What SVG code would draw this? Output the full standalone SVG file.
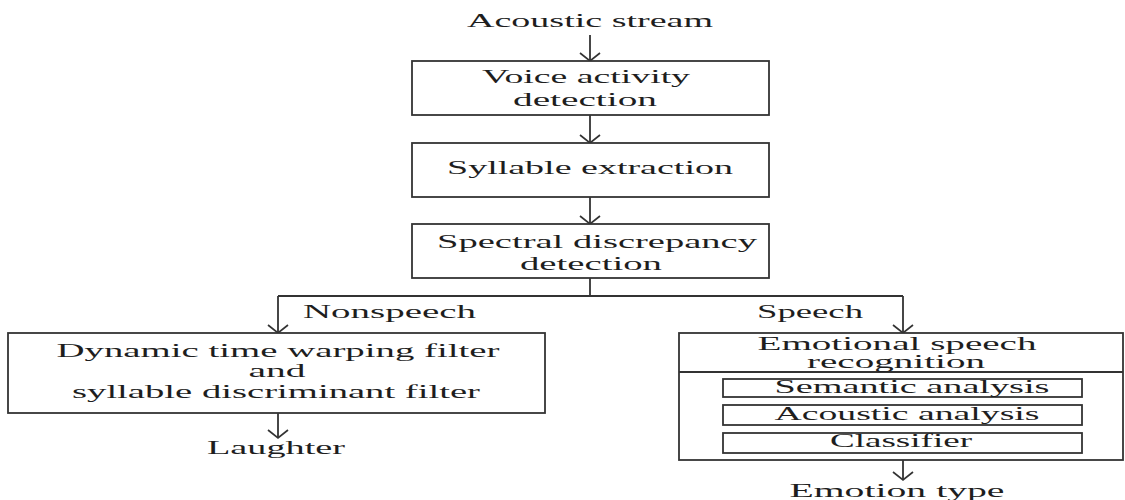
<svg xmlns="http://www.w3.org/2000/svg" width="1125" height="500" viewBox="0 0 1125 500">
<style>
  .box { fill: #ffffff; stroke: #333333; stroke-width: 1.8; }
  .ln { fill: none; stroke: #333333; stroke-width: 1.8; }
  .ah { fill: none; stroke: #333333; stroke-width: 1.7; stroke-linejoin: miter; }
  text { font-family: "Liberation Serif", "Times New Roman", serif; font-size: 18px; fill: #1e1e1e; }
  .m { text-anchor: middle; }
</style>
<rect width="1125" height="500" fill="#ffffff"/>

<g id="connectors">
  <path class="ln" d="M590,35 V61"/>
  <path class="ah" d="M580,53 L590,61 L600,53"/>
  <path class="ln" d="M590,115 V143"/>
  <path class="ah" d="M580,135 L590,143 L600,135"/>
  <path class="ln" d="M590,197 V224"/>
  <path class="ah" d="M580,216 L590,224 L600,216"/>
  <path class="ln" d="M590,278 V296 M278,296 H903 M278,296 V333 M903,296 V333"/>
  <path class="ah" d="M268,325 L278,333 L288,325"/>
  <path class="ah" d="M893,325 L903,333 L913,325"/>
  <path class="ln" d="M278,413 V438"/>
  <path class="ah" d="M268,430 L278,438 L288,430"/>
  <path class="ln" d="M903,460 V480"/>
  <path class="ah" d="M893,472 L903,480 L913,472"/>
  <text x="303" y="318" textLength="173" lengthAdjust="spacingAndGlyphs">Nonspeech</text>
  <text x="757" y="318" textLength="106" lengthAdjust="spacingAndGlyphs">Speech</text>
</g>

<g id="input">
  <text class="m" x="590" y="27" textLength="246" lengthAdjust="spacingAndGlyphs">Acoustic stream</text>
</g>

<g id="vad">
  <rect class="box" x="412" y="61" width="357" height="54"/>
  <text class="m" x="586" y="83" textLength="208" lengthAdjust="spacingAndGlyphs">Voice activity</text>
  <text class="m" x="585" y="106" textLength="144" lengthAdjust="spacingAndGlyphs">detection</text>
</g>

<g id="syllable">
  <rect class="box" x="412" y="143" width="357" height="54"/>
  <text class="m" x="590" y="174" textLength="286" lengthAdjust="spacingAndGlyphs">Syllable extraction</text>
</g>

<g id="spectral">
  <rect class="box" x="412" y="224" width="357" height="54"/>
  <text class="m" x="597" y="248" textLength="320" lengthAdjust="spacingAndGlyphs">Spectral discrepancy</text>
  <text class="m" x="591" y="270" textLength="142" lengthAdjust="spacingAndGlyphs">detection</text>
</g>

<g id="dtw">
  <rect class="box" x="8" y="333" width="537" height="80"/>
  <text class="m" x="278" y="357" textLength="443" lengthAdjust="spacingAndGlyphs">Dynamic time warping filter</text>
  <text class="m" x="277" y="377" textLength="57" lengthAdjust="spacingAndGlyphs">and</text>
  <text class="m" x="276" y="398" textLength="408" lengthAdjust="spacingAndGlyphs">syllable discriminant filter</text>
</g>

<g id="laughter">
  <text class="m" x="276" y="454" textLength="138" lengthAdjust="spacingAndGlyphs">Laughter</text>
</g>

<g id="esr">
  <rect class="box" x="679" y="333" width="444" height="127"/>
  <path class="ln" d="M679,372 H1123"/>
  <text class="m" x="897" y="350" textLength="279" lengthAdjust="spacingAndGlyphs">Emotional speech</text>
  <text class="m" x="896" y="368" textLength="178" lengthAdjust="spacingAndGlyphs">recognition</text>
  <g id="semantic">
    <rect class="box" x="723" y="379" width="359" height="18"/>
    <text class="m" x="912" y="393" textLength="275" lengthAdjust="spacingAndGlyphs">Semantic analysis</text>
  </g>
  <g id="acoustic">
    <rect class="box" x="723" y="405" width="359" height="20"/>
    <text class="m" x="907" y="420" textLength="265" lengthAdjust="spacingAndGlyphs">Acoustic analysis</text>
  </g>
  <g id="classifier">
    <rect class="box" x="723" y="433" width="359" height="20"/>
    <text class="m" x="901" y="447" textLength="142" lengthAdjust="spacingAndGlyphs">Classifier</text>
  </g>
</g>

<g id="emotion">
  <text class="m" x="897" y="497" textLength="215" lengthAdjust="spacingAndGlyphs">Emotion type</text>
</g>
</svg>
